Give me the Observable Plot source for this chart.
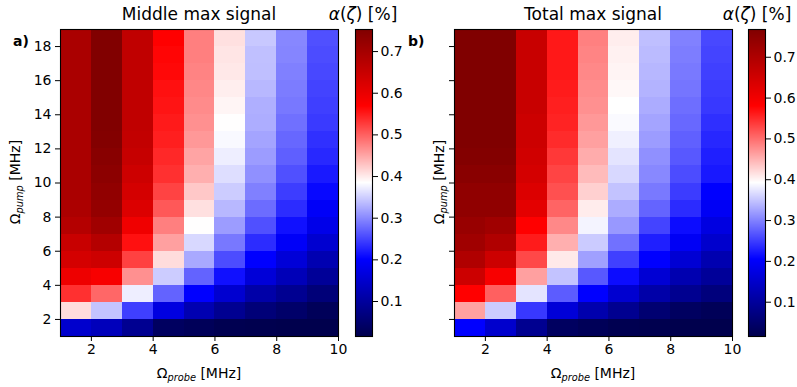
<!DOCTYPE html>
<html><head><meta charset="utf-8">
<script src="https://cdn.jsdelivr.net/npm/d3@7"></script>
<script src="https://cdn.jsdelivr.net/npm/@observablehq/plot@0.6"></script>
<style>
body{margin:0;background:#fff;}
#root{position:relative;width:797px;height:387px;font-family:"DejaVu Sans",sans-serif;color:#000;overflow:hidden;background:#fff}
.abs{position:absolute;white-space:nowrap;line-height:1}
.abs sub{font-size:70%;font-style:italic;vertical-align:-0.3em}
</style></head><body><div id="root"></div>
<script>
// ---- data ----
const probeEdges = [1, 2, 3, 4, 5, 6, 7, 8, 9, 10];
const pumpEdges = [1, 2, 3, 4, 5, 6, 7, 8, 9, 10, 11, 12, 13, 14, 15, 16, 17, 18, 19];
const xTicks = [2, 4, 6, 8, 10];
const yTicks = [2, 4, 6, 8, 10, 12, 14, 16, 18];
const cbTicks = [0.1, 0.2, 0.3, 0.4, 0.5, 0.6, 0.7];
const titles = ["Middle max signal", "Total max signal"];
const panelTags = ["a)", "b)"];
const rangeMiddle = [0.016, 0.753];
const rangeTotal = [0.016, 0.768];
const seismicColors = ["#00004d", "#0000ff", "#ffffff", "#ff0000", "#800000"];

// rows listed from top (pump 18-19) to bottom (pump 1-2); columns probe 1-2 ... 9-10
const middleSignal = [
  [0.692, 0.752, 0.660, 0.569, 0.477, 0.407, 0.345, 0.298, 0.258],
  [0.692, 0.752, 0.660, 0.565, 0.477, 0.403, 0.339, 0.296, 0.255],
  [0.692, 0.752, 0.660, 0.563, 0.474, 0.401, 0.338, 0.293, 0.252],
  [0.692, 0.752, 0.660, 0.557, 0.471, 0.397, 0.333, 0.290, 0.249],
  [0.692, 0.752, 0.660, 0.554, 0.468, 0.392, 0.327, 0.287, 0.246],
  [0.692, 0.752, 0.660, 0.550, 0.465, 0.385, 0.325, 0.281, 0.242],
  [0.692, 0.749, 0.657, 0.546, 0.459, 0.380, 0.319, 0.275, 0.235],
  [0.692, 0.741, 0.651, 0.540, 0.450, 0.372, 0.313, 0.269, 0.229],
  [0.692, 0.735, 0.642, 0.534, 0.442, 0.361, 0.304, 0.258, 0.218],
  [0.692, 0.729, 0.631, 0.520, 0.424, 0.348, 0.293, 0.244, 0.206],
  [0.689, 0.724, 0.619, 0.505, 0.407, 0.333, 0.278, 0.232, 0.193],
  [0.677, 0.706, 0.590, 0.477, 0.385, 0.313, 0.258, 0.212, 0.177],
  [0.648, 0.677, 0.557, 0.453, 0.356, 0.287, 0.232, 0.193, 0.152],
  [0.631, 0.642, 0.522, 0.410, 0.322, 0.255, 0.200, 0.160, 0.119],
  [0.593, 0.579, 0.465, 0.348, 0.272, 0.212, 0.160, 0.127, 0.094],
  [0.534, 0.494, 0.372, 0.272, 0.200, 0.152, 0.110, 0.086, 0.061],
  [0.410, 0.342, 0.246, 0.168, 0.119, 0.086, 0.061, 0.045, 0.028],
  [0.148, 0.130, 0.086, 0.036, 0.028, 0.020, 0.018, 0.016, 0.016]
];
const totalSignal = [
  [0.768, 0.768, 0.661, 0.562, 0.486, 0.405, 0.345, 0.299, 0.257],
  [0.768, 0.768, 0.661, 0.562, 0.483, 0.402, 0.342, 0.296, 0.254],
  [0.768, 0.768, 0.661, 0.562, 0.480, 0.400, 0.339, 0.293, 0.251],
  [0.768, 0.768, 0.661, 0.560, 0.477, 0.397, 0.336, 0.290, 0.248],
  [0.768, 0.768, 0.661, 0.557, 0.474, 0.392, 0.331, 0.285, 0.245],
  [0.768, 0.768, 0.655, 0.554, 0.468, 0.388, 0.325, 0.281, 0.239],
  [0.768, 0.768, 0.655, 0.548, 0.462, 0.381, 0.319, 0.275, 0.233],
  [0.764, 0.764, 0.649, 0.539, 0.453, 0.372, 0.310, 0.269, 0.227],
  [0.755, 0.755, 0.643, 0.530, 0.442, 0.363, 0.304, 0.260, 0.222],
  [0.744, 0.744, 0.632, 0.521, 0.427, 0.348, 0.293, 0.248, 0.204],
  [0.744, 0.744, 0.620, 0.506, 0.406, 0.331, 0.278, 0.236, 0.193],
  [0.732, 0.720, 0.580, 0.480, 0.384, 0.316, 0.254, 0.213, 0.172],
  [0.720, 0.697, 0.560, 0.451, 0.354, 0.287, 0.227, 0.193, 0.151],
  [0.697, 0.655, 0.527, 0.408, 0.322, 0.251, 0.204, 0.159, 0.121],
  [0.655, 0.591, 0.462, 0.348, 0.269, 0.213, 0.159, 0.121, 0.096],
  [0.580, 0.509, 0.372, 0.272, 0.204, 0.154, 0.112, 0.087, 0.066],
  [0.462, 0.354, 0.245, 0.163, 0.117, 0.087, 0.054, 0.036, 0.028],
  [0.204, 0.151, 0.087, 0.036, 0.028, 0.020, 0.018, 0.016, 0.016]
];

// ---- helpers ----
const root = document.getElementById("root");
const FONT = "DejaVu Sans";

function colorScale(range) {
  const [a, b] = range;
  const dom = [0, 0.25, 0.5, 0.75, 1].map(t => a + t * (b - a));
  return {type: "linear", domain: dom, range: seismicColors, interpolate: "rgb", clamp: true};
}

function table(grid) {
  const rows = [];
  const n = grid.length;
  grid.forEach((row, r) => row.forEach((v, c) => {
    rows.push({x1: probeEdges[c], x2: probeEdges[c + 1], y1: pumpEdges[n - 1 - r], y2: pumpEdges[n - r], v});
  }));
  return rows;
}

function place(node, left, top) {
  const d = document.createElement("div");
  d.style.position = "absolute"; d.style.left = left + "px"; d.style.top = top + "px";
  d.appendChild(node); root.appendChild(d);
}

function text(html, x, y, opts = {}) {
  const d = document.createElement("div");
  d.className = "abs";
  d.innerHTML = html;
  d.style.left = x + "px"; d.style.top = y + "px";
  d.style.fontSize = (opts.size || 14) + "px";
  if (opts.bold) d.style.fontWeight = "bold";
  d.style.transform = opts.rotate ? "translate(-50%,-50%) rotate(-90deg)" : (opts.center ? "translate(-50%,0)" : "none");
  root.appendChild(d);
}

function heatmap(grid, range, showYLabels) {
  return Plot.plot({
    width: 340, height: 387,
    marginLeft: 60, marginRight: 2, marginTop: 29, marginBottom: 51,
    style: {fontSize: "14px", fontFamily: FONT, color: "black", background: "transparent", overflow: "visible"},
    x: {domain: [probeEdges[0], probeEdges[probeEdges.length - 1]]},
    y: {domain: [pumpEdges[0], pumpEdges[pumpEdges.length - 1]]},
    color: colorScale(range),
    marks: [
      Plot.rect(table(grid), {x1: "x1", x2: "x2", y1: "y1", y2: "y2", fill: "v", shapeRendering: "crispEdges"}),
      Plot.frame({stroke: "black", strokeWidth: 1.1}),
      Plot.axisX(xTicks, {tickSize: 5, tickPadding: 3, label: null, stroke: "black", strokeWidth: 1}),
      Plot.axisY(yTicks, {tickSize: 5, tickPadding: 4, label: null, stroke: "black", strokeWidth: 1,
        tickFormat: showYLabels ? (d => String(d)) : (() => "")})
    ]
  });
}

function colorbar(range, w, barW) {
  const [a, b] = range;
  const steps = 307;
  const ramp = d3.range(steps).map(i => ({y1: a + (b - a) * i / steps, y2: a + (b - a) * (i + 1) / steps, v: a + (b - a) * (i + 0.5) / steps}));
  return Plot.plot({
    width: w, height: 387,
    marginLeft: 0, marginRight: w - barW, marginTop: 29, marginBottom: 51,
    style: {fontSize: "14px", fontFamily: FONT, color: "black", background: "transparent", overflow: "visible"},
    x: {domain: [0, 1], axis: null},
    y: {domain: [a, b]},
    color: colorScale(range),
    marks: [
      Plot.rect(ramp, {x1: 0, x2: 1, y1: "y1", y2: "y2", fill: "v", shapeRendering: "crispEdges"}),
      Plot.frame({stroke: "black", strokeWidth: 1.1}),
      Plot.axisY(cbTicks, {anchor: "right", tickSize: 5, tickPadding: 3, label: null, stroke: "black", tickFormat: d => d.toFixed(1)})
    ]
  });
}

// ---- panels ----
place(heatmap(middleSignal, rangeMiddle, true), 0, 0);
place(colorbar(rangeMiddle, 45, 17), 355, 0);
place(heatmap(totalSignal, rangeTotal, false), 394, 0);
place(colorbar(rangeTotal, 49, 17), 748, 0);

// ---- texts ----
const probeLabel = "Ω<sub>probe</sub> [MHz]";
const pumpLabel = "Ω<sub>pump</sub> [MHz]";
const alphaLabel = "<i>α</i>(<i>ζ</i>) [%]";

text(titles[0], 199, 6, {size: 17, center: true});
text(titles[1], 593, 6, {size: 17, center: true});
text(alphaLabel, 363, 6, {size: 17, center: true});
text(alphaLabel, 757, 6, {size: 17, center: true});
text(panelTags[0], 13, 34, {size: 14, bold: true});
text(panelTags[1], 408, 34, {size: 14, bold: true});
text(probeLabel, 199, 366, {size: 14, center: true});
text(probeLabel, 593, 366, {size: 14, center: true});
text(pumpLabel, 16, 182, {size: 14, rotate: true});
text(pumpLabel, 440, 182, {size: 14, rotate: true});
</script>
</body></html>
